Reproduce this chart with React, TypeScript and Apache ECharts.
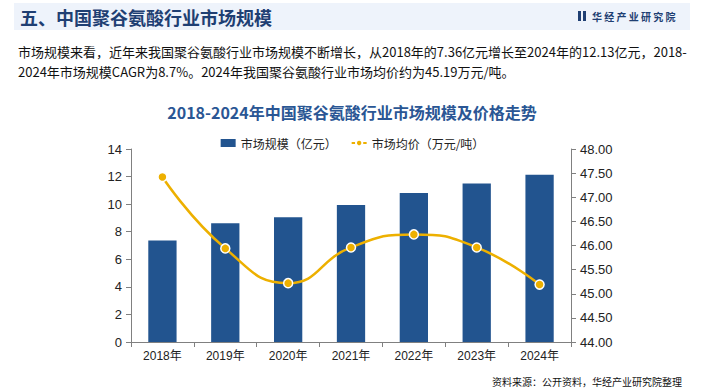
import React, { useEffect, useRef } from "react";
import * as echarts from "echarts";

const categories = ["2018年", "2019年", "2020年", "2021年", "2022年", "2023年", "2024年"];
const marketSize = [7.36, 8.62, 9.05, 9.93, 10.8, 11.5, 12.13];
const avgPrice = [47.42, 45.94, 45.22, 45.96, 46.23, 45.96, 45.19];
const leftTicks = { min: 0, max: 14, interval: 2 };
const rightTicks = { min: 44, max: 48, interval: 0.5 };

const pageTitle = "五、中国聚谷氨酸行业市场规模";
const brand = "华经产业研究院";
const para1 = "市场规模来看，近年来我国聚谷氨酸行业市场规模不断增长，从2018年的7.36亿元增长至2024年的12.13亿元，2018-";
const para2 = "2024年市场规模CAGR为8.7%。2024年我国聚谷氨酸行业市场均价约为45.19万元/吨。";
const chartTitle = "2018-2024年中国聚谷氨酸行业市场规模及价格走势";
const source = "资料来源：公开资料，华经产业研究院整理";
const seriesNames = ["市场规模（亿元）", "市场均价（万元/吨）"];

const CJK = "'Microsoft YaHei','Noto Sans CJK SC',sans-serif";
const NUM = "Arial,'Liberation Sans','Noto Sans CJK SC',sans-serif";

export default function App() {
  const ref = useRef<HTMLDivElement>(null);
  useEffect(() => {
    if (!ref.current) return;
    const chart = echarts.init(ref.current, null, { renderer: "svg" });
    chart.setOption({
      animation: false,
      backgroundColor: "#ffffff",
      graphic: [
        { type: "rect", shape: { x: 14, y: 3, width: 676, height: 27 }, style: { fill: "#eef3fb" } },
        { type: "text", x: 20, y: 17, style: { text: pageTitle, font: `bold 18px ${CJK}`, fill: "#1f3f73", verticalAlign: "middle" } },
        { type: "rect", shape: { x: 578, y: 11, width: 3, height: 10 }, style: { fill: "#1f3f73" } },
        { type: "rect", shape: { x: 583, y: 11, width: 3, height: 10 }, style: { fill: "#1f3f73" } },
        { type: "text", x: 592, y: 16, style: { text: brand.split("").join(" "), font: `bold 10px ${CJK}`, fill: "#1f3f73", verticalAlign: "middle" } },
        { type: "text", x: 18, y: 51, style: { text: para1, font: `13px ${CJK}`, fill: "#111111", verticalAlign: "middle" } },
        { type: "text", x: 18, y: 71, style: { text: para2, font: `13px ${CJK}`, fill: "#111111", verticalAlign: "middle" } },
        { type: "text", x: 352, y: 112, style: { text: chartTitle, font: `bold 16px ${CJK}`, fill: "#2a5694", align: "center", verticalAlign: "middle" } },
        { type: "text", x: 682, y: 381, style: { text: source, font: `10px ${CJK}`, fill: "#111111", align: "right", verticalAlign: "middle" } },
      ],
      legend: {
        top: 132,
        left: "center",
        itemGap: 14,
        itemWidth: 15,
        itemHeight: 8,
        textStyle: { fontSize: 12, color: "#222", fontFamily: CJK },
        data: [
          { name: seriesNames[0], icon: "rect" },
          { name: seriesNames[1] },
        ],
      },
      grid: { left: 131, right: 134, top: 149, bottom: 50 },
      xAxis: {
        type: "category",
        data: categories,
        axisLine: { lineStyle: { color: "#808080" } },
        axisTick: { show: true, alignWithLabel: false, length: 5, lineStyle: { color: "#808080" } },
        axisLabel: { color: "#222", fontSize: 12, fontFamily: NUM, margin: 8 },
      },
      yAxis: [
        {
          type: "value",
          ...leftTicks,
          splitLine: { show: false },
          axisLine: { show: true, lineStyle: { color: "#808080" } },
          axisTick: { show: true, length: 5, lineStyle: { color: "#808080" } },
          axisLabel: { color: "#222", fontSize: 13, fontFamily: NUM, margin: 9 },
        },
        {
          type: "value",
          position: "right",
          ...rightTicks,
          splitLine: { show: false },
          axisLine: { show: true, lineStyle: { color: "#808080" } },
          axisTick: { show: true, length: 5, lineStyle: { color: "#808080" } },
          axisLabel: { color: "#222", fontSize: 13, fontFamily: NUM, margin: 9, formatter: (v: number) => v.toFixed(2) },
        },
      ],
      series: [
        {
          name: seriesNames[0],
          type: "bar",
          data: marketSize,
          barWidth: "45%",
          itemStyle: { color: "#22548f" },
        },
        {
          name: seriesNames[1],
          type: "line",
          yAxisIndex: 1,
          data: avgPrice,
          smooth: true,
          symbol: "circle",
          symbolSize: 9,
          lineStyle: { color: "#edb000", width: 2.5 },
          itemStyle: { color: "#edb000", borderColor: "#ffffff", borderWidth: 1.5 },
        },
      ],
    });
    return () => chart.dispose();
  }, []);
  return <div ref={ref} style={{ position: "absolute", left: 0, top: 0, width: 705, height: 392 }} />;
}
